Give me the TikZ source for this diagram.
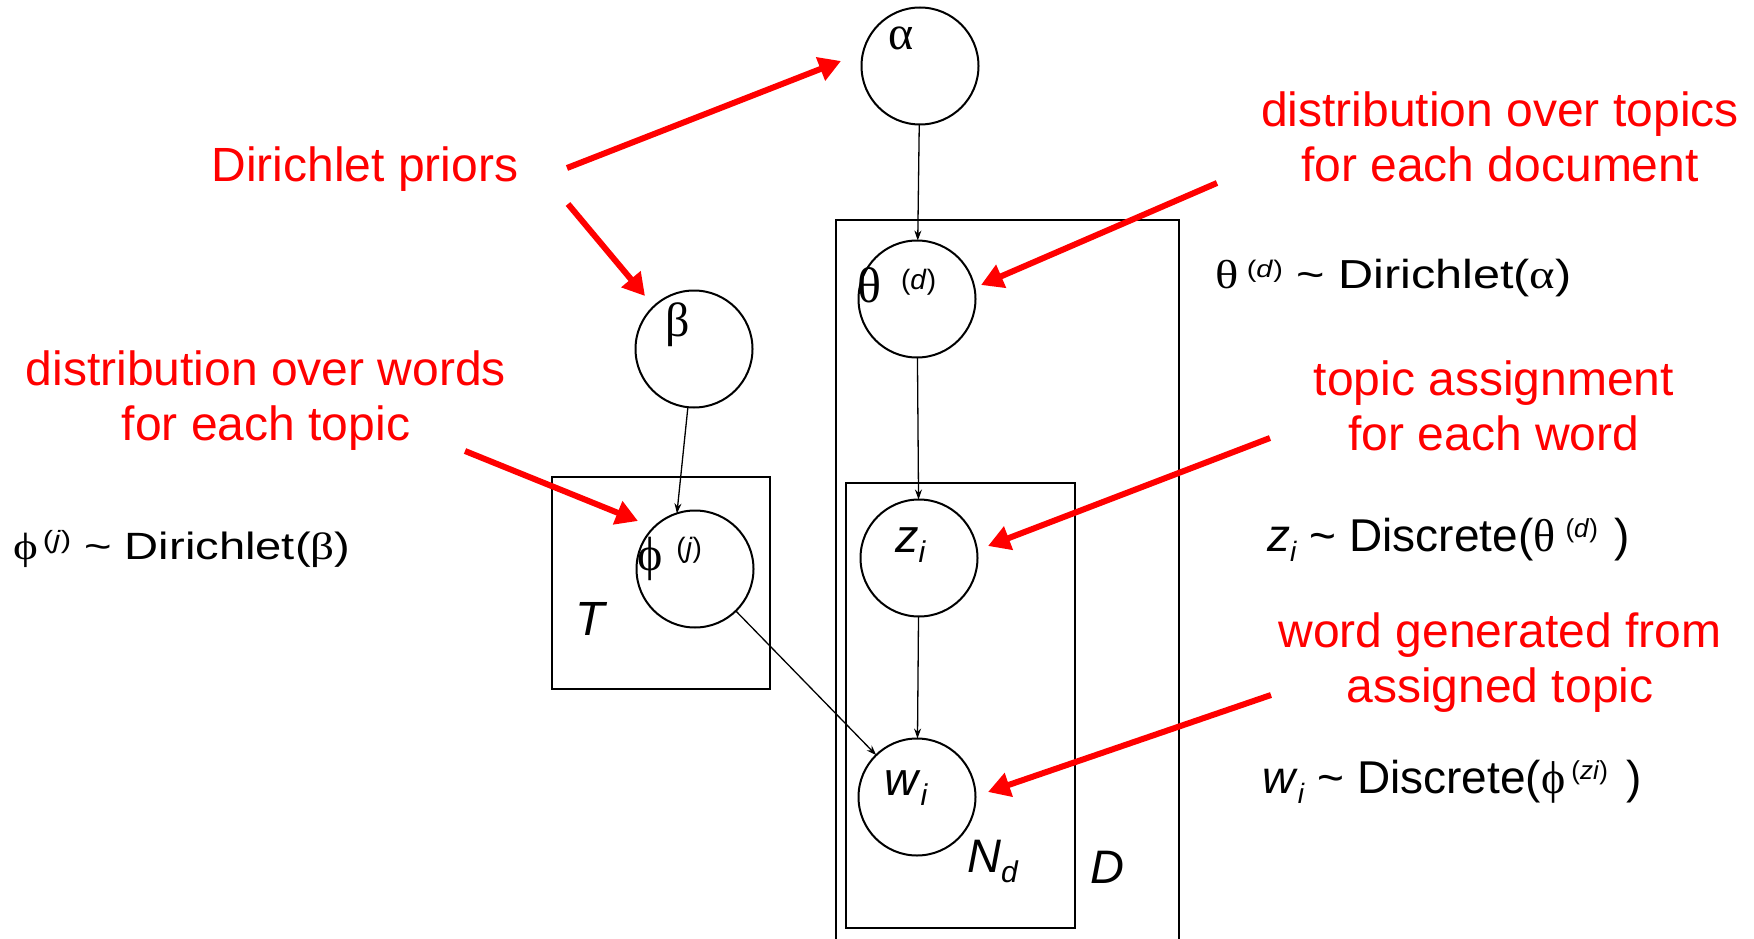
\documentclass[tikz,border=0pt]{standalone}
\usepackage{fontspec}
\setmainfont{Liberation Sans}
\newfontfamily\gr{Liberation Serif}
\usetikzlibrary{arrows.meta}
\definecolor{ared}{RGB}{255,0,0}
\newcommand\sfont[1]{\fontsize{#1}{#1}\selectfont}
\begin{document}
\begin{tikzpicture}[x=1pt,y=-1pt,
  var/.style={circle,draw,line width=2pt,minimum size=117pt,inner sep=0pt,outer sep=0pt},
  plate/.style={draw,line width=2pt},
  dep/.style={-{Stealth[length=10pt,width=7pt]},line width=1.3pt},
  note/.style={text=ared,align=center,font=\fontsize{48}{55}\selectfont,inner sep=0pt},
  pointer/.style={draw=ared,line width=6pt,-{Triangle[length=22pt,width=24pt]}},
  lab/.style={inner sep=0pt,anchor=base west},
]
\useasboundingbox (0,0) rectangle (1754,939);
\fill[white] (0,0) rectangle (1754,939);

% plates
\draw[plate] (836,960) -- (836,220) -- (1179,220) -- (1179,960);
\draw[plate] (846,483) rectangle (1075,928);
\draw[plate] (552,477) rectangle (770,689);

% variables
\node[var] (alpha) at (920,66) {};
\node[var] (theta) at (917,299) {};
\node[var] (beta) at (694,349) {};
\node[var] (phi) at (695,569) {};
\node[var] (z) at (919,558) {};
\node[var] (w) at (917,797) {};

% variable labels
\node[lab] (alphal) at (888,50) {\sfont{48}\gr α};
\node[lab] (thetal) at (857,302) {\sfont{50}{\gr θ}\hspace{20pt}\raisebox{13pt}{\sfont{28}(\textit{d})}};
\node[lab] (betal) at (665,336) {\sfont{48}\gr β};
\node[lab] (phil) at (637,570) {\sfont{48}{\gr ϕ}\hspace{14pt}\raisebox{13pt}{\sfont{28}(\textit{j})}};
\node[lab] (zl) at (895,552) {\sfont{47}\textit{z}\raisebox{-10pt}{\sfont{30}\textit{i}}};
\node[lab] (wl) at (884,795) {\sfont{47}\textit{w}\raisebox{-10pt}{\sfont{30}\textit{i}}};
\node[lab] (Tl) at (575,635) {\sfont{48}\textit{T}};
\node[lab] (Nl) at (967,872) {\sfont{47}\textit{N}\raisebox{-10pt}{\sfont{30}\textit{d}}};
\node[lab] (Dl) at (1090,883) {\sfont{47}\textit{D}};

% dependencies
\draw[dep] (alpha) -- (theta);
\draw[dep] (theta) -- (z);
\draw[dep] (z) -- (w);
\draw[dep] (beta.-96) -- (phi.108);
\draw[dep] (phi) -- (w);

% formulas
\node[lab] (f1) at (1215,288) {\scalebox{1.2}[1]{\sfont{40.5}{\gr θ}\hspace{7pt}\raisebox{11pt}{\sfont{24}(\textit{d})} \textasciitilde{} Dirichlet({\gr α})}};
\node[lab] (f2) at (13,559) {\scalebox{1.24}[1]{\sfont{38}{\gr ϕ}\hspace{4pt}\raisebox{11pt}{\sfont{25}(\textit{j})} \textasciitilde{} Dirichlet({\gr β})}};
\node[lab] (f3) at (1267,551) {\sfont{46}\textit{z}\raisebox{-10pt}{\sfont{28}\textit{i}} \textasciitilde{} Discrete({\gr θ}\hspace{10pt}\raisebox{14pt}{\sfont{26}(\textit{d})}\hspace{16pt})};
\node[lab] (f4) at (1262,793) {\sfont{46}\textit{w}\raisebox{-10pt}{\sfont{28}\textit{i}} \textasciitilde{} Discrete({\gr ϕ}\hspace{6pt}\raisebox{14pt}{\sfont{26}(\textit{zi})}\hspace{18pt})};

% notes
\node[note,anchor=base] (n1) at (365,182) {Dirichlet priors};
\node[note,anchor=base] (n2) at (1500,182) {distribution over topics\\for each document};
\node[note,anchor=base] (n3) at (266,440) {distribution over words\\for each topic};
\node[note,anchor=base] (n4) at (1494,450) {topic assignment\\for each word};
\node[note,anchor=base] (n5) at (1500,702) {word generated from\\assigned topic};

% pointer ends
\coordinate (p1s) at (567,168); \coordinate (p1e) at (841,61);
\coordinate (p2s) at (568,204); \coordinate (p2e) at (645,296);
\coordinate (p3s) at (1217,183); \coordinate (p3e) at (981,285);
\coordinate (p4s) at (465,451); \coordinate (p4e) at (638,521);
\coordinate (p5s) at (1270,438); \coordinate (p5e) at (988,546);
\coordinate (p6s) at (1271,695); \coordinate (p6e) at (988,792);

\draw[pointer] (p1s) -- (p1e);
\draw[pointer] (p2s) -- (p2e);
\draw[pointer] (p3s) -- (p3e);
\draw[pointer] (p4s) -- (p4e);
\draw[pointer] (p5s) -- (p5e);
\draw[pointer] (p6s) -- (p6e);
\end{tikzpicture}
\end{document}
